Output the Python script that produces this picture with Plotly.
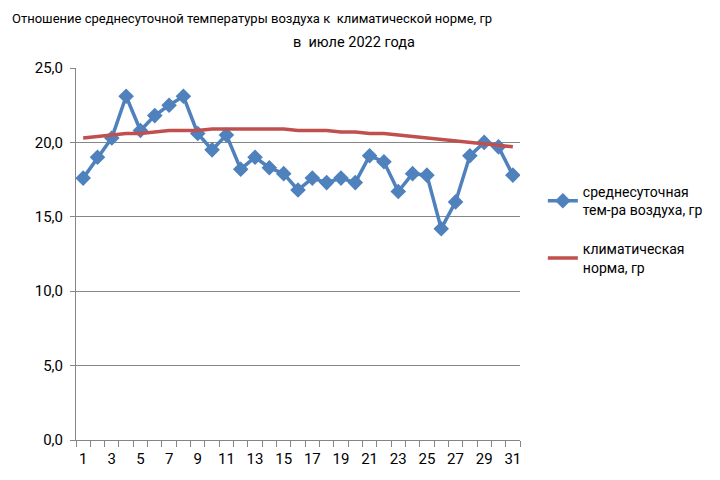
import plotly.graph_objects as go

days = list(range(1, 32))
temp = [17.6, 19.0, 20.3, 23.1, 20.8, 21.8, 22.5, 23.1, 20.6, 19.5,
        20.5, 18.2, 19.0, 18.3, 17.9, 16.8, 17.6, 17.3, 17.6, 17.3,
        19.1, 18.7, 16.7, 17.9, 17.8, 14.2, 16.0, 19.1, 20.0, 19.7, 17.8]
norm = [20.3, 20.4, 20.5, 20.6, 20.6, 20.7, 20.8, 20.8, 20.8, 20.9,
        20.9, 20.9, 20.9, 20.9, 20.9, 20.8, 20.8, 20.8, 20.7, 20.7,
        20.6, 20.6, 20.5, 20.4, 20.3, 20.2, 20.1, 20.0, 19.9, 19.8, 19.7]
x_ticklabels = [str(d) for d in range(1, 32, 2)]
y_ticks = [0, 5, 10, 15, 20, 25]

name_temp = "среднесуточная<br>тем-ра воздуха, гр"
name_norm = "климатическая<br>норма, гр"
title1 = "Отношение среднесуточной температуры воздуха к  климатической норме, гр"
title2 = "в  июле 2022 года"

FONT = "Roboto"

fig = go.Figure()
fig.add_trace(go.Scatter(
    x=days, y=temp, name=name_temp, mode="lines+markers", legendgroup="a",
    line=dict(color="#4F81BD", width=3.5),
    marker=dict(symbol="diamond", size=12, color="#4F81BD"),
))
fig.add_trace(go.Scatter(
    x=days, y=norm, name=name_norm, mode="lines", legendgroup="b",
    line=dict(color="#C0504D", width=3.5),
))

fig.add_annotation(text=title1, xref="paper", yref="paper",
                   x=(10 - 76) / 447, y=1 + (68 - 18) / 372,
                   xanchor="left", yanchor="middle", showarrow=False,
                   font=dict(family=FONT, size=13.0, color="#000"))
fig.add_annotation(text=title2, xref="paper", yref="paper",
                   x=(356 - 76) / 447, y=1 + (68 - 42) / 372,
                   xanchor="center", yanchor="middle", showarrow=False,
                   font=dict(family=FONT, size=14.5, color="#000"))

fig.update_layout(
    width=720, height=480,
    margin=dict(l=76, r=197, t=68, b=40),
    paper_bgcolor="white", plot_bgcolor="white",
    separators=", ",
    font=dict(family=FONT, size=15, color="#000"),
    showlegend=True,
    legend=dict(x=(546 - 76) / 447, y=(440 - 176) / 372, xanchor="left", yanchor="top",
                font=dict(family=FONT, size=14, color="#000"),
                tracegroupgap=18, bgcolor="rgba(0,0,0,0)"),
    xaxis=dict(range=[0.5, 31.5], tickvals=list(range(1, 32, 2)), ticktext=x_ticklabels,
               showgrid=False, zeroline=False, showline=True, linecolor="#868686", linewidth=1,
               ticks="", ticklen=0, ticklabelstandoff=5,
               minor=dict(ticks="outside", tick0=0.5, dtick=1, ticklen=6, tickcolor="#868686",
                          showgrid=False),
               tickfont=dict(family=FONT, size=15)),
    yaxis=dict(range=[0, 25], tickvals=y_ticks, tickformat=".1f",
               showgrid=True, gridcolor="#868686", gridwidth=1, zeroline=False,
               showline=True, linecolor="#868686", linewidth=1,
               ticks="outside", ticklen=5, tickcolor="#868686", ticklabelstandoff=4,
               tickfont=dict(family=FONT, size=15)),
)

fig.write_html("out.html")
